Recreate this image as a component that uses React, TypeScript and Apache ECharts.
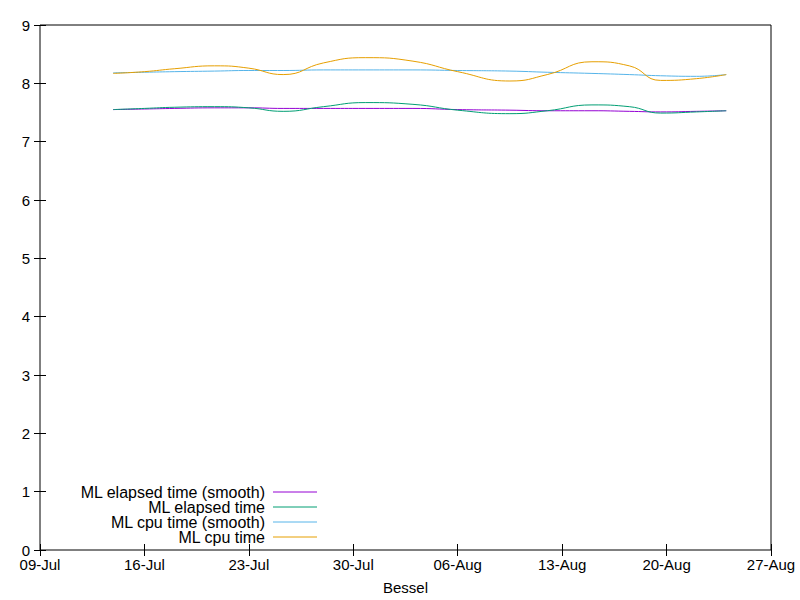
import React, { useEffect, useRef } from 'react';
import * as echarts from 'echarts';

// days since 09-Jul
const days = [4.9, 7, 9, 11.7, 14, 16.3, 19, 21.8, 25, 28, 31.5, 34, 37, 39.5, 41.6, 44, 46];
const mlElapsedSmooth = [7.55, 7.56, 7.57, 7.58, 7.58, 7.57, 7.57, 7.57, 7.57, 7.55, 7.54, 7.53, 7.53, 7.52, 7.51, 7.52, 7.53];
const mlElapsed = [7.55, 7.57, 7.59, 7.6, 7.58, 7.52, 7.6, 7.67, 7.64, 7.54, 7.48, 7.53, 7.63, 7.6, 7.49, 7.51, 7.53];
const mlCpuSmooth = [8.18, 8.19, 8.2, 8.21, 8.22, 8.22, 8.23, 8.23, 8.23, 8.22, 8.21, 8.19, 8.17, 8.15, 8.13, 8.12, 8.15];
const mlCpu = [8.17, 8.2, 8.25, 8.3, 8.26, 8.15, 8.35, 8.44, 8.38, 8.2, 8.04, 8.15, 8.37, 8.3, 8.05, 8.08, 8.15];
const seriesNames = ['ML elapsed time (smooth)', 'ML elapsed time', 'ML cpu time (smooth)', 'ML cpu time'];
const colors = ['#9400d3', '#009e73', '#56b4e9', '#e69f00'];
const monthNames = ['Jan', 'Feb', 'Mar', 'Apr', 'May', 'Jun', 'Jul', 'Aug', 'Sep', 'Oct', 'Nov', 'Dec'];

const fmt = (v: number) => {
  const d = new Date(Date.UTC(2019, 6, 9 + v));
  return `${String(d.getUTCDate()).padStart(2, '0')}-${monthNames[d.getUTCMonth()]}`;
};

export default function App() {
  const ref = useRef<HTMLDivElement>(null);
  useEffect(() => {
    if (!ref.current) return;
    const chart = echarts.init(ref.current, undefined, { renderer: 'svg' });
    const font = 'Liberation Sans, Arial, sans-serif';
    const axisBase = {
      axisLine: { show: false },
      axisTick: { inside: true, length: 6, lineStyle: { color: '#000' } },
      splitLine: { show: false },
      axisLabel: { color: '#000', fontFamily: font, fontSize: 15 },
    };
    const all = [mlElapsedSmooth, mlElapsed, mlCpuSmooth, mlCpu];
    chart.setOption({
      animation: false,
      grid: { left: 40, right: 29, top: 25, bottom: 50, show: true, borderColor: '#000', borderWidth: 1 },
      xAxis: [
        {
          ...axisBase, type: 'value', min: 0, max: 49, interval: 7,
          axisLabel: { ...axisBase.axisLabel, formatter: fmt, margin: 7 },
          name: 'Bessel', nameLocation: 'middle', nameGap: 30,
          nameTextStyle: { color: '#000', fontFamily: font, fontSize: 15 },
        },
        { ...axisBase, type: 'value', min: 0, max: 49, interval: 7, position: 'top', axisLabel: { show: false } },
      ],
      yAxis: [
        { ...axisBase, type: 'value', min: 0, max: 9, interval: 1, axisLabel: { ...axisBase.axisLabel, margin: 10 } },
        { ...axisBase, type: 'value', min: 0, max: 9, interval: 1, position: 'right', axisLabel: { show: false } },
      ],
      series: all.map((vals, i) => ({
        name: seriesNames[i],
        type: 'line',
        smooth: 0.5,
        symbol: 'none',
        lineStyle: { color: colors[i], width: 1 },
        data: days.map((d, j) => [d, vals[j]]),
        z: i,
      })),
      graphic: seriesNames.flatMap((n, i) => [
        {
          type: 'text', x: 265, y: 492 + i * 15,
          style: { text: n, align: 'right', verticalAlign: 'middle', fill: '#000', font: `16px ${font}` },
        },
        {
          type: 'line', shape: { x1: 273, y1: 492 + i * 15, x2: 317, y2: 492 + i * 15 },
          style: { stroke: colors[i], lineWidth: 1 },
        },
      ]),
    });
    return () => chart.dispose();
  }, []);
  return <div ref={ref} style={{ width: 800, height: 600, position: 'absolute', left: 0, top: 0 }} />;
}
